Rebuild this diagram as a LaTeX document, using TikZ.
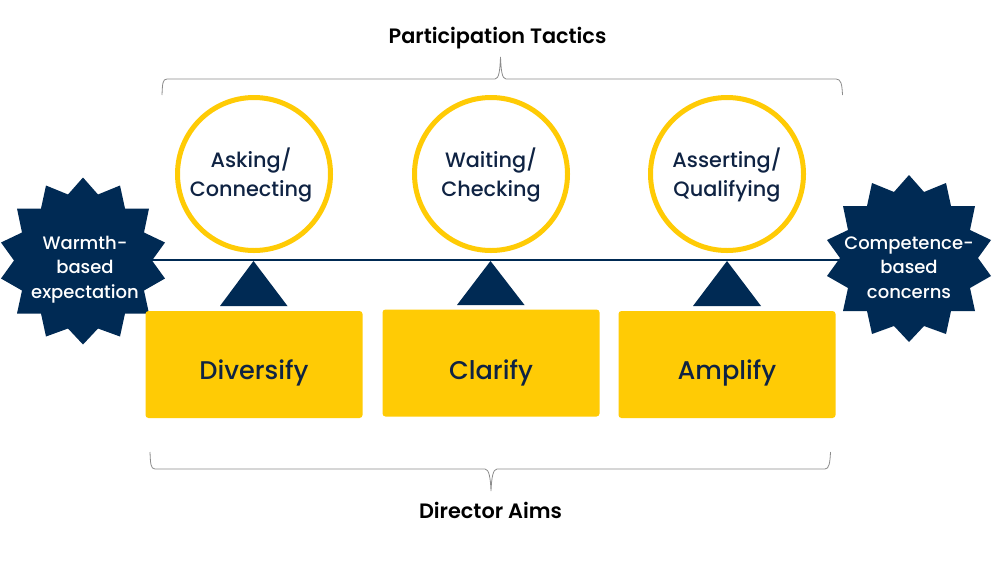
\documentclass[tikz,border=0pt]{standalone}
\usepackage{fontspec}
\setmainfont{Poppins}
\newfontfamily\popmed{Poppins Medium}
\newfontfamily\popsemi{Poppins SemiBold}
\definecolor{navy}{HTML}{002A54}
\definecolor{gold}{HTML}{FFCB05}
\definecolor{ink}{HTML}{0F2343}
\definecolor{bracegray}{HTML}{8C8C8C}
\newcommand{\starpath}{(0,-83) -- (15,-66) -- (37,-75) -- (42,-52) -- (66,-52) -- (61,-28) -- (82,-18) -- (69,0) -- (82,18) -- (61,30) -- (66,53) -- (42,53) -- (37,76) -- (15,68) -- (0,84) -- (-15,68) -- (-37,76) -- (-42,53) -- (-66,53) -- (-61,30) -- (-82,18) -- (-69,0) -- (-82,-18) -- (-61,-28) -- (-66,-52) -- (-42,-52) -- (-37,-75) -- (-15,-66) -- cycle}
\tikzset{
  ring/.style={circle,draw=gold,line width=5pt,fill=white,minimum size=153pt,inner sep=0pt},
  ringtext/.style={align=center,inner sep=0pt,text=ink,font=\popmed\fontsize{20.8}{29}\selectfont},
  aimbox/.style={rectangle,rounded corners=3pt,fill=gold,minimum width=217pt,minimum height=107pt,inner sep=0pt,text height=29pt,text depth=0pt,text=ink,font=\popmed\fontsize{25.6}{30}\selectfont},
  startext/.style={align=center,text=white,inner sep=0pt,font=\popmed\fontsize{18}{24.5}\selectfont},
  title/.style={text=black,inner sep=0pt,font=\popsemi\fontsize{20.8}{24}\selectfont},
  beam/.style={draw=navy,line width=2pt},
  brace/.style={draw=bracegray,line width=0.8pt},
  pivot/.style={fill=navy},
  starshape/.style={fill=navy}
}
\begin{document}
\begin{tikzpicture}[x=1pt,y=-1pt]
\useasboundingbox[fill=white] (0,0) rectangle (1000,563);
\coordinate (beamL) at (150,259.5);
\coordinate (beamR) at (845,259.5);
\draw[beam] (beamL) -- (beamR);
\path[starshape,shift={(83,260.5)}] \starpath;
\path[starshape,shift={(909,258)}] \starpath;
\node[startext] (warm) at (85,269.5) {Warmth-\\based\\expectation};
\node[startext] (comp) at (909,267.5) {Competence-\\based\\concerns};
\node[ring] (c1) at (254,174) {};
\node[ring] (c2) at (491,174) {};
\node[ring] (c3) at (727,174) {};
\node[ringtext] (t1) at (251,175) {Asking/\\Connecting};
\node[ringtext] (t2) at (491,175) {Waiting/\\Checking};
\node[ringtext] (t3) at (727,175) {Asserting/\\Qualifying};
\path[pivot] (253.5,261) -- (287.5,306) -- (220,306) -- cycle;
\path[pivot] (490.5,261) -- (524.5,305) -- (457,305) -- cycle;
\path[pivot] (727,261) -- (761,306) -- (693,306) -- cycle;
\node[aimbox] (b1) at (254,364.5) {Diversify};
\node[aimbox,text height=32pt] (b2) at (491,363) {Clarify};
\node[aimbox] (b3) at (727,364.5) {Amplify};
\node[title] (tt) at (497.5,38.5) {Participation Tactics};
\node[title] (ta) at (490.5,510) {Director Aims};
\draw[brace] (162,95) .. controls (162.5,84) and (162.5,79) .. (167,79) -- (495,79) .. controls (499,79) and (500,70) .. (500.5,57) .. controls (501,70) and (502,79) .. (506,79) -- (836,79) .. controls (841,79) and (842,84) .. (842.5,95);
\draw[brace] (150,452) .. controls (150.5,463) and (150.5,469) .. (155,469) -- (485,469) .. controls (489,469) and (490.5,478) .. (491,491) .. controls (491.5,478) and (493,469) .. (497,469) -- (825,469) .. controls (829,469) and (830,463) .. (830.5,452);
\end{tikzpicture}
\end{document}
